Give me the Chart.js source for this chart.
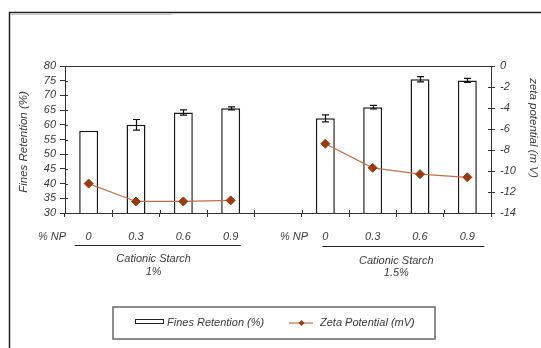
<!DOCTYPE html>
<html>
<head>
<meta charset="utf-8">
<title>Fines Retention and Zeta Potential</title>
<script src="https://cdn.jsdelivr.net/npm/chart.js@4/dist/chart.umd.min.js"></script>
<style>
  html, body { margin: 0; padding: 0; background: #ffffff; }
  #wrap { width: 541px; height: 348px; position: relative; }
  canvas { display: block; }
</style>
</head>
<body>
<div id="wrap"><canvas id="chart" width="541" height="348"></canvas></div>
<script>
// Nanoparticle dose (% NP) for each bar slot; the empty slot separates the two starch levels
const categories = ['0', '0.3', '0.6', '0.9', '', '0', '0.3', '0.6', '0.9'];

// Fines retention (%) and its error bar half-widths
const finesRetention = [58.0, 60.0, 64.2, 65.6, null, 62.2, 66.0, 75.5, 75.1];
const finesRetentionErr = [0, 1.8, 0.9, 0.5, null, 1.2, 0.6, 0.9, 0.7];

// Zeta potential (mV)
const zetaPotential = [-11.2, -12.9, -12.9, -12.8, null, -7.4, -9.7, -10.3, -10.6];

// Cationic starch levels and the slots each one covers
const starchGroups = ['Cationic Starch', 'Cationic Starch'];
const starchLevels = ['1%', '1.5%'];
const groupSlots = [[0, 3], [5, 8]];

const retentionTicks = { min: 30, max: 80, step: 5 };
const zetaTicks = { min: -14, max: 0, step: 2 };

const FONT_FAMILY = "'Liberation Sans', Arial, sans-serif";
const TEXT = '#3a3a3a';
const AXIS = '#333333';
const LINE_COLOR = '#c0704c';
const MARKER_COLOR = '#9a3a10';

const italic = (size) => ({ family: FONT_FAMILY, size: size, style: 'italic' });

// Frame, crossing tick marks, plot top edge, titles, group captions, error bars and legend
const decorations = {
  id: 'decorations',
  beforeDraw(chart) {
    const ctx = chart.ctx;
    ctx.save();
    ctx.fillStyle = '#ffffff';
    ctx.fillRect(0, 0, chart.width, chart.height);
    ctx.strokeStyle = '#222';
    ctx.lineWidth = 1.5;
    ctx.beginPath();
    ctx.moveTo(9.5, 348);
    ctx.lineTo(9.5, 12.5);
    ctx.lineTo(541, 12.5);
    ctx.stroke();
    ctx.strokeStyle = '#c8c8c8';
    ctx.lineWidth = 1;
    ctx.beginPath();
    ctx.moveTo(10.5, 14.5);
    ctx.lineTo(172, 14.5);
    ctx.stroke();
    ctx.restore();
  },
  afterDatasetsDraw(chart) {
    const ctx = chart.ctx;
    const ys = chart.scales.y;
    const meta = chart.getDatasetMeta(1);
    ctx.save();
    ctx.strokeStyle = '#111';
    ctx.lineWidth = 1.2;
    finesRetention.forEach((v, i) => {
      const e = finesRetentionErr[i];
      if (v === null || !e) return;
      const x = Math.round(meta.data[i].x) + 0.5;
      const yt = ys.getPixelForValue(v + e);
      const yb = ys.getPixelForValue(v - e);
      ctx.beginPath();
      ctx.moveTo(x, yt); ctx.lineTo(x, yb);
      ctx.moveTo(x - 3.5, yt); ctx.lineTo(x + 3.5, yt);
      ctx.moveTo(x - 3.5, yb); ctx.lineTo(x + 3.5, yb);
      ctx.stroke();
    });
    ctx.restore();
  },
  afterDraw(chart) {
    const ctx = chart.ctx;
    const area = chart.chartArea;
    const xs = chart.scales.x;
    const ys = chart.scales.y;
    const y1 = chart.scales.y1;
    ctx.save();

    // top edge of the plot
    ctx.strokeStyle = AXIS;
    ctx.lineWidth = 1;
    ctx.beginPath();
    ctx.moveTo(area.left, Math.round(area.top) + 0.5);
    ctx.lineTo(area.right, Math.round(area.top) + 0.5);
    ctx.stroke();

    // inner halves of the crossing tick marks
    ctx.beginPath();
    ys.ticks.forEach(t => {
      const p = Math.round(ys.getPixelForValue(t.value)) + 0.5;
      ctx.moveTo(area.left, p); ctx.lineTo(area.left + 3, p);
    });
    y1.ticks.forEach(t => {
      const p = Math.round(y1.getPixelForValue(t.value)) + 0.5;
      ctx.moveTo(area.right, p); ctx.lineTo(area.right - 3, p);
    });
    const slot = (area.right - area.left) / categories.length;
    for (let i = 0; i <= categories.length; i++) {
      const p = Math.round(area.left + i * slot) + 0.5;
      ctx.moveTo(p, area.bottom); ctx.lineTo(p, area.bottom - 3);
    }
    ctx.stroke();

    // axis titles
    ctx.fillStyle = TEXT;
    ctx.font = 'italic 11.5px ' + FONT_FAMILY;
    ctx.textAlign = 'center';
    ctx.textBaseline = 'middle';
    ctx.save();
    ctx.translate(24, 142);
    ctx.rotate(-Math.PI / 2);
    ctx.fillText('Fines Retention (%)', 0, 0);
    ctx.restore();
    ctx.save();
    ctx.translate(533, 128);
    ctx.rotate(Math.PI / 2);
    ctx.fillText('zeta potential (m V)', 0, 0);
    ctx.restore();

    // "% NP" row headers
    ctx.font = 'italic 11px ' + FONT_FAMILY;
    ctx.fillText('% NP', 52, 237);
    ctx.fillText('% NP', 294, 237);

    // starch group captions with underline
    const underlineOffsets = [[-14, 10], [-3, 17]];
    const captionShift = [-6, 0];
    const captionY = [[259, 272], [261, 273]];
    const underlineY = [245.5, 246.5];
    groupSlots.forEach((g, k) => {
      const a = xs.getPixelForValue(g[0]);
      const b = xs.getPixelForValue(g[1]);
      ctx.strokeStyle = '#222';
      ctx.lineWidth = 1.2;
      ctx.beginPath();
      ctx.moveTo(a + underlineOffsets[k][0], underlineY[k]);
      ctx.lineTo(b + underlineOffsets[k][1], underlineY[k]);
      ctx.stroke();
      const cx = (a + b) / 2 + captionShift[k];
      ctx.fillStyle = TEXT;
      ctx.fillText(starchGroups[k], cx, captionY[k][0]);
      ctx.fillText(starchLevels[k], cx, captionY[k][1]);
    });

    // legend
    ctx.strokeStyle = '#666';
    ctx.lineWidth = 1.5;
    ctx.strokeRect(113, 307, 322, 32);
    const bar = chart.data.datasets[1];
    const line = chart.data.datasets[0];
    ctx.fillStyle = '#fff';
    ctx.strokeStyle = '#222';
    ctx.lineWidth = 1;
    ctx.fillRect(135.5, 319.5, 28, 4);
    ctx.strokeRect(135.5, 319.5, 28, 4);
    ctx.fillStyle = TEXT;
    ctx.textAlign = 'left';
    ctx.fillText(bar.label, 167, 323);
    ctx.strokeStyle = LINE_COLOR;
    ctx.lineWidth = 1.2;
    ctx.beginPath();
    ctx.moveTo(289, 323); ctx.lineTo(313, 323);
    ctx.stroke();
    ctx.fillStyle = MARKER_COLOR;
    ctx.beginPath();
    ctx.moveTo(301.5, 320); ctx.lineTo(304.5, 323); ctx.lineTo(301.5, 326); ctx.lineTo(298.5, 323);
    ctx.closePath();
    ctx.fill();
    ctx.fillStyle = TEXT;
    ctx.fillText(line.label, 320, 323);

    ctx.restore();
  }
};

new Chart(document.getElementById('chart'), {
  type: 'bar',
  data: {
    labels: categories,
    datasets: [
      {
        type: 'line',
        label: 'Zeta Potential (mV)',
        data: zetaPotential,
        yAxisID: 'y1',
        borderColor: LINE_COLOR,
        borderWidth: 1.2,
        pointStyle: 'rectRot',
        pointRadius: 4.5,
        pointBackgroundColor: MARKER_COLOR,
        pointBorderColor: MARKER_COLOR,
        pointBorderWidth: 1,
        spanGaps: false,
        tension: 0,
        order: 0
      },
      {
        type: 'bar',
        label: 'Fines Retention (%)',
        data: finesRetention,
        yAxisID: 'y',
        backgroundColor: '#ffffff',
        borderColor: '#1a1a1a',
        borderWidth: 1.5,
        barPercentage: 0.4,
        categoryPercentage: 1,
        order: 1
      }
    ]
  },
  options: {
    responsive: false,
    devicePixelRatio: 1,
    animation: false,
    layout: { padding: { top: 66, left: 0, right: 0, bottom: 0 } },
    plugins: {
      legend: { display: false },
      tooltip: { enabled: false }
    },
    scales: {
      x: {
        offset: true,
        grid: { display: true, drawOnChartArea: false, offset: true, tickLength: 4, color: AXIS },
        border: { color: AXIS, width: 1 },
        ticks: { font: italic(11), color: TEXT, padding: 13, maxRotation: 0, autoSkip: false },
        afterFit(scale) { scale.height = 135; }
      },
      y: {
        position: 'left',
        min: retentionTicks.min,
        max: retentionTicks.max,
        grid: { drawOnChartArea: false, tickLength: 5, color: AXIS },
        border: { color: AXIS, width: 1 },
        ticks: { stepSize: retentionTicks.step, autoSkip: false, font: italic(11), color: TEXT, padding: 4 },
        afterFit(scale) { scale.width = 65; }
      },
      y1: {
        position: 'right',
        min: zetaTicks.min,
        max: zetaTicks.max,
        grid: { drawOnChartArea: false, tickLength: 4, color: AXIS },
        border: { color: AXIS, width: 1 },
        ticks: { stepSize: zetaTicks.step, autoSkip: false, font: italic(11), color: TEXT, padding: 5 },
        afterFit(scale) { scale.width = 50; }
      }
    }
  },
  plugins: [decorations]
});
</script>
</body>
</html>
